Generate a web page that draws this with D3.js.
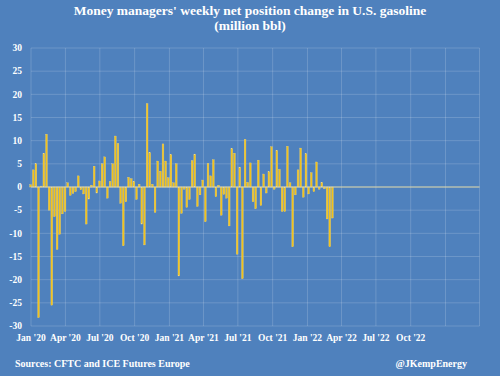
<!DOCTYPE html>
<html><head><meta charset="utf-8">
<script src="https://cdn.jsdelivr.net/npm/d3@7"></script>
<style>
html,body{margin:0;padding:0;background:#4F81BD;}
svg{display:block;}
text{font-family:"Liberation Serif","DejaVu Serif",serif;font-weight:bold;fill:#fff;}
</style></head>
<body>
<svg id="chart" width="500" height="376"></svg>
<script>
// Weekly data, first week ending 2019-12-31
const startDate = "2019-12-31";
const values = [
 0.5, 3.7, 5, -28.2, 0.2, 7.3, 11.4, -5, -25.5, -6.4,
 -13.5, -10.2, -5.8, -5.3, 0.9, -1.8, -1.4, -1, 2.4, -0.6,
 -1.5, -8, -2.6, 0.4, 4.5, -1.3, 1.3, 5, 6.5, -2.4,
 1.2, 5, 11, 9.4, -3.5, -12.7, -3.2, 2.1, 1.8, 1.2,
 -2.7, 0.6, -8, -12.5, 18, 7.4, 0.6, -5.5, 5.6, 3.4,
 9.3, 5.6, 2, 7, 0.9, 5, -19.2, -5.7, -0.5, -4.4,
 -2.7, 5.7, 7.1, -4.2, -1.7, 1.5, -7.5, 5.1, 2.4, 5.9,
 -2.1, 0.4, -6.1, -1.6, -2.4, -8.4, 8.3, 7.3, -14.5, 4.3,
 -19.8, 10.3, 1, 5.2, -3.2, -4.7, 5.8, -4, 2.8, -1.3,
 3.3, 8.7, -0.5, 7.9, 3.8, -5.3, -5.3, 8.8, 0.9, -12.9,
 -1.7, 3.7, 8.4, -2.2, 7.2, -1.5, 3.1, -1, 5.4, -0.5,
 1, -0.4, -6.9, -12.9, -6.7
];
const yTicks = [30, 25, 20, 15, 10, 5, 0, -5, -10, -15, -20, -25, -30];
const titleLines = ["Money managers' weekly net position change in U.S. gasoline", "(million bbl)"];
const sourceText = "Sources: CFTC and ICE Futures Europe";
const creditText = "@JKempEnergy";

const parse = d3.timeParse("%Y-%m-%d");
const d0 = parse(startDate);
const dates = values.map((v, i) => d3.timeDay.offset(d0, 7 * i));

const svg = d3.select("#chart");
const x = d3.scaleTime().domain([new Date(2020, 0, 1), new Date(2023, 0, 1)]).range([31, 445.5]);
const xEnd = new Date(2023, 3, 1);
const y = d3.scaleLinear().domain([-30, 30]).range([326, 48]);

const g = svg.append("g");
g.selectAll(".hg").data(yTicks).join("line")
  .attr("x1", x.range()[0]).attr("x2", x(xEnd))
  .attr("y1", d => y(d)).attr("y2", d => y(d))
  .attr("stroke", "rgba(255,255,255,0.17)").attr("stroke-width", 1);
const qTicks = d3.timeMonth.every(3).range(new Date(2020, 0, 1), d3.timeDay.offset(xEnd, 1));
g.selectAll(".vg").data(qTicks).join("line")
  .attr("x1", d => x(d)).attr("x2", d => x(d))
  .attr("y1", y(30)).attr("y2", y(-30))
  .attr("stroke", "rgba(255,255,255,0.17)").attr("stroke-width", 1);

const bw = 1.8;
g.selectAll(".bar").data(values).join("rect")
  .attr("x", (d, i) => x(dates[i]) - bw / 2)
  .attr("width", bw)
  .attr("y", d => y(Math.max(0, d)))
  .attr("height", d => Math.abs(y(d) - y(0)))
  .attr("fill", "#F2C21B")
  .attr("stroke", "#EFD98A").attr("stroke-width", 0.3);

g.append("line")
  .attr("x1", x.range()[0]).attr("x2", x(xEnd))
  .attr("y1", y(0)).attr("y2", y(0))
  .attr("stroke", "#D9D3A6").attr("stroke-width", 1);

svg.selectAll(".yl").data(yTicks).join("text")
  .attr("x", 22).attr("y", d => y(d) + 3.3)
  .attr("text-anchor", "end").attr("font-size", "9.5px")
  .text(d => d);

const fmt = d3.timeFormat("%b '%y");
svg.selectAll(".xl").data(qTicks.filter(d => d < new Date(2023, 0, 1))).join("text")
  .attr("x", d => x(d)).attr("y", 341)
  .attr("text-anchor", "middle").attr("font-size", "9.5px")
  .text(d => fmt(d));

svg.selectAll(".tt").data(titleLines).join("text")
  .attr("x", 250).attr("y", (d, i) => 15 + i * 15)
  .attr("text-anchor", "middle").attr("font-size", "13.5px")
  .text(d => d);

svg.append("text").attr("x", 15).attr("y", 367).attr("font-size", "10px").text(sourceText);
svg.append("text").attr("x", 467).attr("y", 367).attr("text-anchor", "end").attr("font-size", "10px").text(creditText);
</script>
</body></html>
